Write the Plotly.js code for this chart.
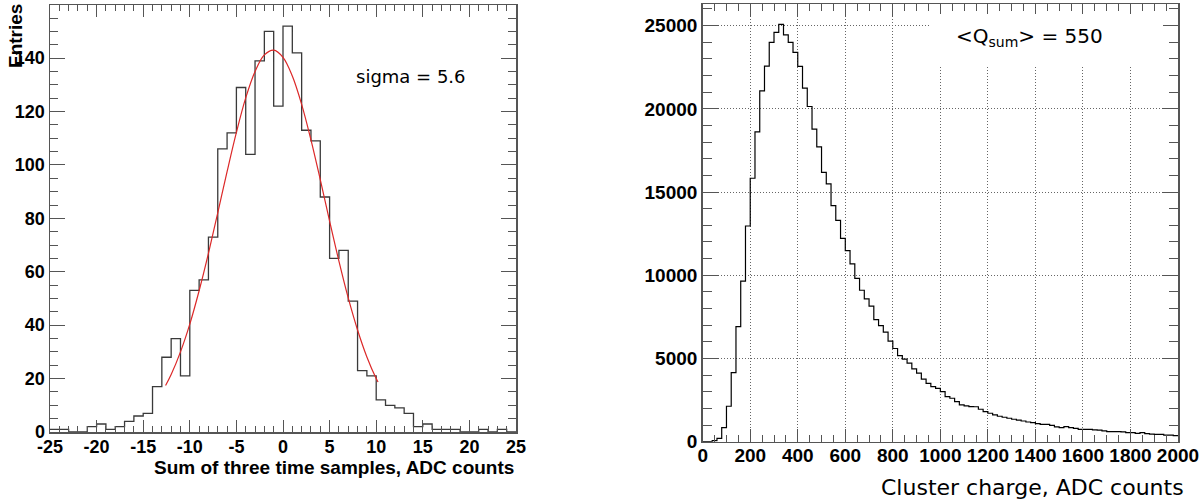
<!DOCTYPE html>
<html>
<head>
<meta charset="utf-8">
<script src="https://cdn.plot.ly/plotly-3.0.1.min.js"></script>
<style>
  html, body { margin: 0; padding: 0; background: #fff; }
  #chart { width: 1201px; height: 502px; }
</style>
</head>
<body>
<div id="chart"></div>
<script>
// ---- Left panel: sum of three time samples (bin width 1, from -25) ----
const leftBinLow = -25;
const leftBinWidth = 1;
const leftCounts = [
  1, 1, 0, 0, 2, 3, 1, 2, 4, 6,
  7, 17, 28, 35, 21, 53, 57, 73, 106, 112,
  129, 104, 139, 150, 122, 152, 142, 113, 109, 88,
  65, 68, 49, 23, 21, 12, 10, 9, 7, 2,
  3, 1, 1, 1, 0, 0, 1, 0, 1, 0
];
// Gaussian fit curve (sigma = 5.6)
const fitX = [-12.6, -12, -11, -10, -9, -8, -7, -6, -5, -4, -3, -2, -1, 0, 1, 2, 3, 4, 5, 6, 7, 8, 9, 10, 10.2];
const fitY = [17.4, 21.5, 30.0, 40.4, 52.9, 66.9, 82.1, 97.5, 112.2, 125.1, 135.0, 141.2, 143.0, 140.3, 133.3, 122.7, 109.4, 94.5, 79.0, 64.0, 50.2, 38.2, 28.1, 20.0, 18.7];
const leftTickVals = [-25, -20, -15, -10, -5, 0, 5, 10, 15, 20, 25];
const leftTickText = ['-25', '-20', '-15', '-10', '-5', '0', '5', '10', '15', '20', '25'];

// ---- Right panel: cluster charge (bin width 20, from 0) ----
const rightBinLow = 0;
const rightBinWidth = 20;
const rightCounts = [
  0, 0, 60, 200, 850, 2130, 4150, 6920, 9650, 12960,
  15830, 18620, 21080, 22570, 23990, 24590, 25070, 24450, 23990, 23390,
  22550, 21250, 20140, 18780, 17720, 16180, 15490, 14180, 13300, 12220,
  11480, 10680, 9810, 9100, 8580, 8150, 7340, 6980, 6590, 6040,
  5600, 5170, 4960, 4720, 4380, 4120, 3760, 3510, 3310, 3210,
  3010, 2710, 2610, 2410, 2210, 2150, 2110, 2100, 1950, 1810,
  1710, 1610, 1530, 1470, 1410, 1350, 1300, 1245, 1185, 1145,
  1085, 1045, 1040, 985, 885, 845, 905, 845, 805, 745,
  745, 740, 705, 700, 645, 605, 600, 605, 585, 545,
  545, 500, 540, 480, 460, 440, 440, 400, 400, 360
];

function stepXY(low, width, counts) {
  const xs = [], ys = [];
  for (let i = 0; i < counts.length; i++) {
    xs.push(low + i * width);
    ys.push(counts[i]);
  }
  xs.push(low + counts.length * width);
  ys.push(counts[counts.length - 1]);
  return { xs, ys };
}

const L = stepXY(leftBinLow, leftBinWidth, leftCounts);
const R = stepXY(rightBinLow, rightBinWidth, rightCounts);

const W = 1201, H = 502;
const px = v => v / W;
const py = v => 1 - v / H;

const boldTick = { family: 'Liberation Sans, Arial, sans-serif', size: 18, weight: 'bold', color: '#000' };
const boldTickR = { family: 'Liberation Sans, Arial, sans-serif', size: 19, weight: 'bold', color: '#000' };
const frameColor = '#555';

const traces = [
  { x: L.xs, y: L.ys, type: 'scatter', mode: 'lines', line: { shape: 'hv', color: '#3a3a3a', width: 1.3 }, xaxis: 'x', yaxis: 'y', hoverinfo: 'skip' },
  { x: fitX, y: fitY, type: 'scatter', mode: 'lines', line: { shape: 'spline', color: 'rgb(220,40,40)', width: 1.2 }, xaxis: 'x', yaxis: 'y', hoverinfo: 'skip' },
  { x: R.xs, y: R.ys, type: 'scatter', mode: 'lines', line: { shape: 'hv', color: '#000', width: 1.2 }, xaxis: 'x2', yaxis: 'y2', hoverinfo: 'skip' }
];

const layout = {
  width: W, height: H,
  margin: { l: 0, r: 0, t: 0, b: 0 },
  paper_bgcolor: '#fff', plot_bgcolor: '#fff',
  showlegend: false,
  xaxis: {
    domain: [px(50), px(516)], anchor: 'y',
    range: [-25, 25], tickmode: 'array', tickvals: leftTickVals, ticktext: leftTickText,
    ticks: 'inside', ticklen: 12, tickwidth: 1, tickcolor: frameColor,
    minor: { tickmode: 'linear', tick0: -25, dtick: 1, ticks: 'inside', ticklen: 6, tickcolor: frameColor, showgrid: false },
    showline: true, linecolor: frameColor, linewidth: 1.5, mirror: 'ticks',
    showgrid: false, zeroline: false, tickfont: boldTick, ticklabelstandoff: -2
  },
  yaxis: {
    domain: [py(432), py(5)], anchor: 'x',
    range: [0, 159.9], tickmode: 'linear', tick0: 0, dtick: 20,
    ticks: 'inside', ticklen: 15, tickwidth: 1, tickcolor: frameColor,
    minor: { tickmode: 'linear', tick0: 0, dtick: 5, ticks: 'inside', ticklen: 8, tickcolor: frameColor, showgrid: false },
    showline: true, linecolor: frameColor, linewidth: 1.5, mirror: 'ticks',
    showgrid: false, zeroline: false, tickfont: boldTick
  },
  xaxis2: {
    domain: [px(702.7), px(1178)], anchor: 'y2',
    range: [0, 2000], tickmode: 'linear', tick0: 0, dtick: 200, tickformat: 'd',
    ticks: 'inside', ticklen: 13, tickwidth: 1, tickcolor: frameColor,
    minor: { tickmode: 'linear', tick0: 0, dtick: 50, ticks: 'inside', ticklen: 7, tickcolor: frameColor, showgrid: false },
    showline: true, linecolor: frameColor, linewidth: 1.5, mirror: 'ticks',
    showgrid: true, gridcolor: '#666', griddash: '1px,2px', gridwidth: 1,
    zeroline: false, tickfont: boldTickR, ticklabelstandoff: -4
  },
  yaxis2: {
    domain: [py(441.7), py(4)], anchor: 'x2',
    range: [0, 26300], tickmode: 'linear', tick0: 0, dtick: 5000, tickformat: 'd',
    ticks: 'inside', ticklen: 16, tickwidth: 1, tickcolor: frameColor,
    minor: { tickmode: 'linear', tick0: 0, dtick: 1000, ticks: 'inside', ticklen: 9, tickcolor: frameColor, showgrid: false },
    showline: true, linecolor: frameColor, linewidth: 1.5, mirror: 'ticks',
    showgrid: true, gridcolor: '#666', griddash: '1px,2px', gridwidth: 1,
    zeroline: false, tickfont: boldTickR
  },
  shapes: [
    { type: 'rect', xref: 'paper', yref: 'paper', x0: px(930), x1: px(1163), y0: py(65), y1: py(14),
      fillcolor: '#fff', line: { width: 0 }, layer: 'above' }
  ],
  annotations: [
    { xref: 'paper', yref: 'paper', x: px(516), y: py(467), xanchor: 'right', yanchor: 'middle', showarrow: false,
      text: 'Sum of three time samples, ADC counts',
      font: { family: 'Liberation Sans, Arial, sans-serif', size: 19, weight: 'bold', color: '#000' } },
    { xref: 'paper', yref: 'paper', x: px(15.5), y: py(36.5), xanchor: 'center', yanchor: 'middle', showarrow: false,
      text: 'Entries', textangle: -90,
      font: { family: 'Liberation Sans, Arial, sans-serif', size: 19, weight: 'bold', color: '#000' } },
    { xref: 'paper', yref: 'paper', x: px(411), y: py(77), xanchor: 'center', yanchor: 'middle', showarrow: false,
      text: 'sigma = 5.6',
      font: { family: 'DejaVu Sans, sans-serif', size: 18, color: '#000' } },
    { xref: 'paper', yref: 'paper', x: px(1029), y: py(37), xanchor: 'center', yanchor: 'middle', showarrow: false,
      text: '&lt;Q<sub>sum</sub>&gt; = 550',
      font: { family: 'DejaVu Sans, sans-serif', size: 20, color: '#000' } },
    { xref: 'paper', yref: 'paper', x: px(1186), y: py(487), xanchor: 'right', yanchor: 'middle', showarrow: false,
      text: 'Cluster charge, ADC counts',
      font: { family: 'DejaVu Sans, sans-serif', size: 22, color: '#000' } }
  ]
};

Plotly.newPlot('chart', traces, layout, { staticPlot: true, displayModeBar: false });
</script>
</body>
</html>
